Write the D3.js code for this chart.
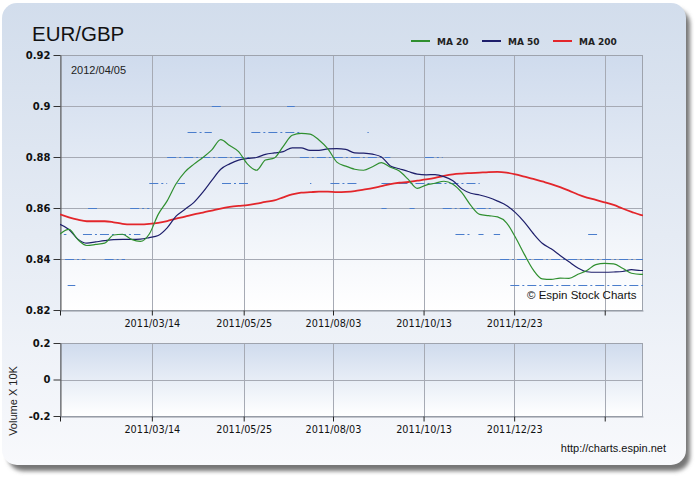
<!DOCTYPE html>
<html><head><meta charset="utf-8">
<script src="https://cdn.jsdelivr.net/npm/d3@7"></script>
<style>body{margin:0;background:#fff}svg{display:block}</style>
</head><body><svg id="c" width="700" height="480"></svg>
<script>
// ---------------- data ----------------
const title = "EUR/GBP";
const lastDate = "2012/04/05";
const dates = [
 "2011-01-01","2011-01-08","2011-01-15","2011-01-22","2011-01-29","2011-02-05","2011-02-12","2011-02-19","2011-02-26",
 "2011-03-05","2011-03-12","2011-03-19","2011-03-26","2011-04-02","2011-04-09","2011-04-16","2011-04-23","2011-04-30",
 "2011-05-07","2011-05-14","2011-05-21","2011-05-28","2011-06-04","2011-06-11","2011-06-18","2011-06-25","2011-07-02",
 "2011-07-09","2011-07-16","2011-07-23","2011-07-30","2011-08-06","2011-08-13","2011-08-20","2011-08-27","2011-09-03",
 "2011-09-10","2011-09-17","2011-09-24","2011-10-01","2011-10-08","2011-10-15","2011-10-22","2011-10-29","2011-11-05",
 "2011-11-12","2011-11-19","2011-11-26","2011-12-03","2011-12-10","2011-12-17","2011-12-24","2011-12-31","2012-01-07",
 "2012-01-14","2012-01-21","2012-01-28","2012-02-04","2012-02-11","2012-02-18","2012-02-25","2012-03-03","2012-03-10",
 "2012-03-17","2012-03-24","2012-03-31","2012-04-02"];
const ma20 = [
 0.8498,0.8516,0.8476,0.8453,0.8457,0.8462,0.8494,0.8497,0.8477,0.8469,0.8498,0.8575,0.8628,0.8695,0.8742,0.8772,0.8798,0.8828,
 0.8868,0.8845,0.8821,0.8772,0.8748,0.8788,0.8796,0.8842,0.8885,0.8893,0.8890,0.8867,0.8832,0.8780,0.8764,0.8752,0.8748,0.8762,
 0.8778,0.8760,0.8745,0.8712,0.8677,0.8690,0.8697,0.8705,0.8693,0.8660,0.8610,0.8575,0.8570,0.8565,0.8542,0.8485,0.8418,0.8357,
 0.8322,0.8320,0.8325,0.8324,0.8340,0.8355,0.8378,0.8383,0.8381,0.8364,0.8344,0.8340,0.8340];
const ma50 = [
 0.8536,0.8516,0.8478,0.8462,0.8467,0.8472,0.8476,0.8477,0.8477,0.8478,0.8484,0.8492,0.8522,0.8568,0.8595,0.8622,0.8662,0.8708,
 0.8752,0.8773,0.8788,0.8794,0.8798,0.8810,0.8816,0.8821,0.8836,0.8836,0.8826,0.8826,0.8832,0.8833,0.8830,0.8816,0.8815,0.8811,
 0.8800,0.8765,0.8754,0.8743,0.8733,0.8730,0.8731,0.8723,0.8707,0.8675,0.8658,0.8651,0.8641,0.8627,0.8610,0.8582,0.8545,0.8500,
 0.8462,0.8440,0.8414,0.8389,0.8365,0.8350,0.8348,0.8348,0.8349,0.8351,0.8358,0.8355,0.8355];
const ma200 = [
 0.8575,0.8563,0.8554,0.8548,0.8548,0.8548,0.8544,0.8538,0.8536,0.8536,0.8538,0.8542,0.8549,0.8558,0.8566,0.8575,0.8582,0.8590,
 0.8598,0.8604,0.8608,0.8611,0.8617,0.8624,0.8630,0.8642,0.8653,0.8660,0.8662,0.8664,0.8664,0.8662,0.8663,0.8666,0.8672,0.8678,
 0.8686,0.8694,0.8699,0.8702,0.8707,0.8712,0.8718,0.8726,0.8732,0.8735,0.8737,0.8739,0.8741,0.8742,0.8739,0.8732,0.8723,0.8714,
 0.8704,0.8694,0.8682,0.8668,0.8653,0.8641,0.8632,0.8622,0.8612,0.8598,0.8585,0.8573,0.8571];
// closing price (rounded to 0.01) runs: [level, from, to]
const priceRuns = [
 [0.90,"2011-04-30","2011-05-08"],[0.90,"2011-06-28","2011-07-04"],
 [0.89,"2011-04-11","2011-04-30"],[0.89,"2011-05-31","2011-07-10"],[0.89,"2011-08-30","2011-08-31"],
 [0.88,"2011-03-26","2011-05-30"],[0.88,"2011-07-08","2011-09-17"],[0.88,"2011-10-14","2011-10-28"],
 [0.87,"2011-03-12","2011-03-26"],[0.87,"2011-04-03","2011-04-09"],[0.87,"2011-05-08","2011-05-30"],
 [0.87,"2011-07-16","2011-07-17"],[0.87,"2011-08-01","2011-08-23"],[0.87,"2011-09-10","2011-11-26"],
 [0.86,"2011-01-23","2011-01-30"],[0.86,"2011-02-25","2011-03-12"],[0.86,"2011-09-10","2011-09-14"],
 [0.86,"2011-10-02","2011-10-06"],[0.86,"2011-10-28","2011-12-06"],
 [0.85,"2011-01-04","2011-01-06"],[0.85,"2011-01-19","2011-03-05"],[0.85,"2011-11-07","2011-11-18"],
 [0.85,"2011-11-25","2011-11-29"],[0.85,"2011-12-07","2011-12-12"],[0.85,"2012-02-19","2012-02-26"],
 [0.84,"2011-01-05","2011-01-21"],[0.84,"2011-02-05","2011-02-21"],[0.84,"2011-12-12","2012-04-02"],
 [0.83,"2011-01-07","2011-01-13"],[0.83,"2011-12-20","2012-04-02"]];
const priceTicks = [0.82,0.84,0.86,0.88,0.9,0.92];
const volumeTicks = [-0.2,0,0.2];
const dateTicks = ["2011-01-01","2011-03-14","2011-05-25","2011-08-03","2011-10-13","2011-12-23","2012-03-03"];
const dateTickLabels = ["","2011/03/14","2011/05/25","2011/08/03","2011/10/13","2011/12/23",""];
const seriesNames = ["MA 20","MA 50","MA 200"];

// ---------------- drawing ----------------
const parse = d3.timeParse("%Y-%m-%d");
const svg = d3.select("#c");
const defs = svg.append("defs");
const cardGrad = defs.append("linearGradient").attr("id","cardG").attr("x1",0).attr("y1",0).attr("x2",0).attr("y2",1);
cardGrad.append("stop").attr("offset","0%").attr("stop-color","#d2ddec");
cardGrad.append("stop").attr("offset","100%").attr("stop-color","#f8f9fc");
const plotGrad = defs.append("linearGradient").attr("id","plotG").attr("x1",0).attr("y1",0).attr("x2",0).attr("y2",1);
plotGrad.append("stop").attr("offset","0%").attr("stop-color","#cfdbed");
plotGrad.append("stop").attr("offset","100%").attr("stop-color","#ffffff");
defs.append("filter").attr("id","blur").attr("x","-10%").attr("y","-10%").attr("width","120%").attr("height","120%")
  .append("feGaussianBlur").attr("stdDeviation",2.2);

svg.append("rect").attr("x",8).attr("y",9).attr("width",682).attr("height",462).attr("rx",15)
  .attr("fill","#767676").attr("filter","url(#blur)");
svg.append("rect").attr("x",2).attr("y",3).attr("width",684).attr("height",462).attr("rx",15)
  .attr("fill","url(#cardG)");

const L = 60, R = 643;
const x = d3.scaleTime().domain([parse("2011-01-01"), parse("2012-04-02")]).range([L, R]);
const yP = d3.scaleLinear().domain([0.82, 0.92]).range([310, 55]);
const yV = d3.scaleLinear().domain([-0.2, 0.2]).range([416, 343]);
const px = v => Math.round(v) + 0.5;

function panel(y, ticks, fmt) {
  const [b, t] = y.range();
  const g = svg.append("g");
  g.append("rect").attr("x",L).attr("y",t).attr("width",R-L).attr("height",b-t).attr("fill","url(#plotG)");
  g.selectAll(".gy").data(ticks).join("line")
    .attr("x1",L).attr("x2",R).attr("y1",d=>px(y(d))).attr("y2",d=>px(y(d)))
    .attr("stroke","#a6aab4").attr("stroke-width",1);
  g.selectAll(".gx").data(dateTicks.slice(1)).join("line")
    .attr("x1",d=>px(x(parse(d)))).attr("x2",d=>px(x(parse(d)))).attr("y1",t).attr("y2",b)
    .attr("stroke","#a6aab4").attr("stroke-width",1);
  g.append("rect").attr("x",L+0.5).attr("y",t+0.5).attr("width",R-L-1).attr("height",b-t)
    .attr("fill","none").attr("stroke","#9ea3ad");
  const ya = d3.axisLeft(y).tickValues(ticks).tickSize(7).tickSizeOuter(0).tickPadding(3).tickFormat(fmt);
  const yg = svg.append("g").attr("transform",`translate(${L+0.5},0)`).call(ya);
  yg.select(".domain").attr("stroke","#5a5a5a");
  yg.selectAll(".tick line").attr("stroke","#333");
  yg.selectAll("text").attr("font-family","DejaVu Sans").attr("font-weight","bold").attr("font-size","10px").attr("fill","#111");
  const xa = d3.axisBottom(x).tickValues(dateTicks.map(parse)).tickSize(5).tickSizeOuter(0).tickPadding(5)
    .tickFormat((d,i)=>dateTickLabels[i]);
  const xg = svg.append("g").attr("transform",`translate(0,${b+0.5})`).call(xa);
  xg.select(".domain").attr("stroke","#8f949e");
  xg.selectAll(".tick line").attr("stroke","#222");
  xg.selectAll("text").attr("font-family","DejaVu Sans").attr("font-size","9.7px").attr("fill","#111");
  return g;
}
panel(yP, priceTicks, d => String(+d.toFixed(2)));
panel(yV, volumeTicks, d => String(+d.toFixed(1)));

defs.append("clipPath").attr("id","clipP").append("rect").attr("x",L).attr("y",55).attr("width",R-L).attr("height",255);
const plot = svg.append("g").attr("clip-path","url(#clipP)");

plot.selectAll(".run").data(priceRuns).join("line")
  .attr("x1",d=>x(parse(d[1]))).attr("x2",d=>x(parse(d[2])))
  .attr("y1",d=>px(yP(d[0]))).attr("y2",d=>px(yP(d[0])))
  .attr("stroke","#4a7dcc").attr("stroke-width",1).attr("stroke-dasharray","9,3,2,3");

const seriesVals = [ma20, ma50, ma200];
const colors = ["#2f8f2f","#1e1f6b","#e3262b"];
const widths = [1.2, 1.2, 1.8];
const line = vals => d3.line().x((d,i)=>x(parse(dates[i]))).y(d=>yP(d)).curve(d3.curveMonotoneX)(vals);
[2,1,0].forEach(k=>{
  plot.append("path").attr("d", line(seriesVals[k])).attr("fill","none")
    .attr("stroke",colors[k]).attr("stroke-width",widths[k]).attr("stroke-linejoin","round");
});

svg.append("text").attr("x",32).attr("y",41).text(title)
  .attr("font-family","Liberation Sans").attr("font-size","20.5px").attr("fill","#111");
svg.append("text").attr("x",71).attr("y",74).text(lastDate)
  .attr("font-family","Liberation Sans").attr("font-size","11px").attr("fill","#222");
svg.append("text").attr("x",527).attr("y",299).text("\u00a9 Espin Stock Charts")
  .attr("font-family","Liberation Sans").attr("font-size","11.5px").attr("fill","#111");
svg.append("text").attr("x",666).attr("y",452).attr("text-anchor","end").text("http://charts.espin.net")
  .attr("font-family","Liberation Sans").attr("font-size","11px").attr("fill","#111");
svg.append("text").attr("transform","translate(17,401) rotate(-90)").attr("text-anchor","middle")
  .text("Volume X 10K").attr("font-family","Liberation Sans").attr("font-size","11px").attr("fill","#222");

const legX = [411, 482, 553];
seriesNames.forEach((n,k)=>{
  svg.append("line").attr("x1",legX[k]).attr("x2",legX[k]+19).attr("y1",41).attr("y2",41)
    .attr("stroke",colors[k]).attr("stroke-width",2);
  svg.append("text").attr("x",legX[k]+26).attr("y",45).text(n)
    .attr("font-family","DejaVu Sans").attr("font-weight","bold").attr("font-size","9px").attr("fill","#222");
});
</script></body></html>
